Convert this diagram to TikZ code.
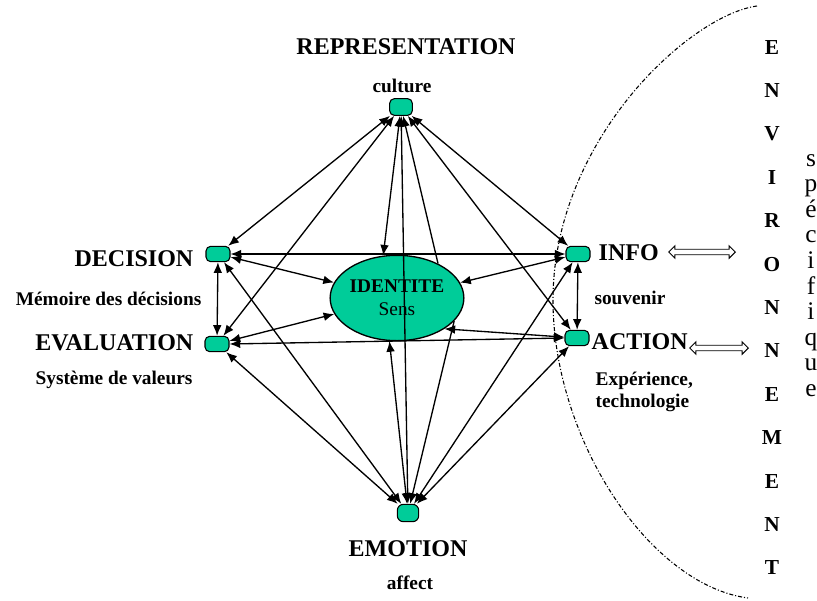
\documentclass[tikz,border=0pt]{standalone}
\usepackage{fontspec}
\setmainfont{Liberation Serif}
\usepackage{xcolor}
\usetikzlibrary{arrows.meta,shapes.geometric,shapes.arrows}
\definecolor{poleteal}{RGB}{0,204,153}
\pgfdeclarelayer{back}
\pgfsetlayers{back,main}

\begin{document}
\begin{tikzpicture}[x=0.75pt,y=-0.75pt,
    pole/.style={rectangle, rounded corners=3.5pt, draw, line width=0.8pt,
                 fill=poleteal, inner sep=0pt, minimum width=18pt, minimum height=11.5pt},
    core/.style={ellipse, draw, line width=1pt, fill=poleteal, align=center,
                 minimum width=87pt, minimum height=64pt, inner sep=0pt,
                 font=\fontsize{14.5}{17}\selectfont},
    title/.style={font=\fontsize{18}{21}\selectfont\bfseries},
    sub/.style={font=\fontsize{14.5}{17}\selectfont\bfseries, align=left},
    envletter/.style={font=\fontsize{16}{19}\selectfont\bfseries, anchor=base},
    speletter/.style={font=\fontsize{19}{22}\selectfont, anchor=base},
    arr/.style={{Latex[length=8pt,width=6.5pt]}-{Latex[length=8pt,width=6.5pt]}, line width=1pt},
    hollow/.style={double arrow, draw, line width=0.7pt, fill=white, inner sep=1.7pt,
                   double arrow head extend=2.6pt},
    border/.style={line width=0.8pt, dash pattern=on 3pt off 1.5pt on 0.8pt off 1.5pt}]

    \useasboundingbox (0,0) rectangle (817,600);

    % poles
    \node[pole, minimum width=17pt, minimum height=12.5pt] (rep) at (401,107) {};
    \node[pole] (dec) at (218,254) {};
    \node[pole] (eva) at (217,344) {};
    \node[pole] (inf) at (578,254) {};
    \node[pole] (act) at (577,338) {};
    \node[pole, minimum width=16pt, minimum height=13pt, rounded corners=4.5pt] (emo) at (408,513) {};
    \node[core] (ide) at (397,298) {\bfseries IDENTITE\\Sens};

    % labels
    \node[title] (repT) at (406,47) {REPRESENTATION};
    \node[sub] (repS) at (402,86) {culture};
    \node[title, anchor=east] (decT) at (198,259) {DECISION};
    \node[sub, anchor=east] (decS) at (206,299) {Mémoire des décisions};
    \node[title, anchor=east] (evaT) at (198,343) {EVALUATION};
    \node[sub] (evaS) at (114,380) {Système de valeurs};
    \node[title, anchor=west] (infT) at (594,253) {INFO};
    \node[sub] (infS) at (630,298) {souvenir};
    \node[title, anchor=west] (actT) at (587,342) {ACTION};
    \node[sub, anchor=west] (actS) at (591,392) {Expérience,\\technologie};
    \node[title] (emoT) at (408,549) {EMOTION};
    \node[sub] (emoS) at (410,583) {affect};

    % environnement
    \foreach \l [count=\i] in {E,N,V,I,R,O,N,N,E,M,E,N,T}
        \node[envletter] (env\i) at (772,{54+43.4*(\i-1)}) {\l};
    \foreach \l [count=\i] in {s,p,é,c,i,f,i,q,u,e}
        \node[speletter] (spe\i) at (811,{166+25.6*(\i-1)}) {\l};
    \draw[border] (757,6) .. controls (690,15) and (553,140) .. (553,300)
                          .. controls (553,440) and (650,585) .. (748,598);
    \node[hollow, minimum height=50pt] (infEnv) at (702,252) {};
    \node[hollow, minimum height=44pt] (actEnv) at (719,348) {};

    % links behind the core
    \begin{pgfonlayer}{back}
    \draw[arr] (rep) -- (dec);
    \draw[arr] (rep) -- (eva);
    \draw[arr] (rep) -- (inf);
    \draw[arr] (rep) -- (act);
    \draw[arr] (rep) -- (ide.108);
    \draw[arr, {Latex[length=8pt,width=6.5pt]}-] (rep) -- (ide.40);
    \draw[arr, -{Latex[length=8pt,width=6.5pt]}] (ide.-22) -- (emo);
    \draw[arr] (ide.-100) -- (emo);
    \draw[arr] (dec) -- (eva);
    \draw[arr] (inf) -- (act);
    \draw[arr] (dec) -- (ide);
    \draw[arr] (eva) -- (ide);
    \draw[arr] (inf) -- (ide);
    \draw[arr] (act) -- (ide.-33);
    \draw[arr] (dec) -- (emo);
    \draw[arr] (eva) -- (emo);
    \draw[arr] (inf) -- (emo);
    \draw[arr] (act) -- (emo);
    \end{pgfonlayer}

    % links over the core
    \draw[arr] (dec) -- (inf);
    \draw[arr] (eva.east) -- (act.west);
    \draw[arr] (rep) -- (emo);
\end{tikzpicture}
\end{document}
